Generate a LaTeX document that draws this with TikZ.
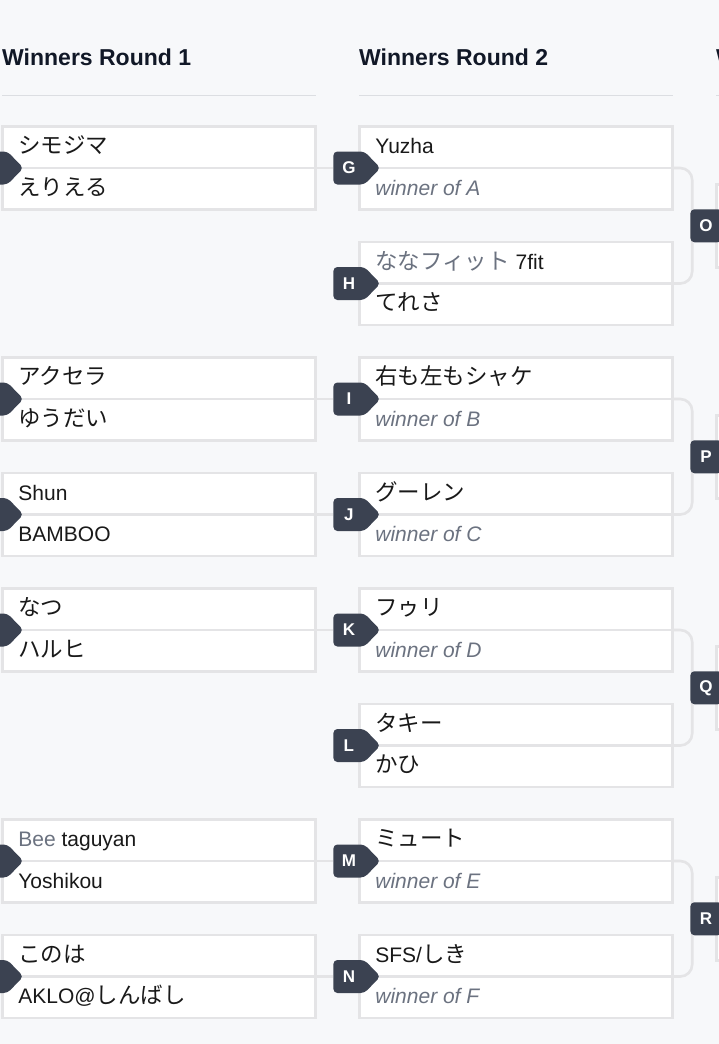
\documentclass[tikz,border=0pt]{standalone}
\usepackage{fontspec}
\setmainfont{Liberation Sans}
\newfontfamily\jp[Scale=1.07]{Noto Sans CJK JP}
\usetikzlibrary{shapes.symbols,backgrounds,positioning}
\definecolor{pagebg}{HTML}{F7F8FA}
\definecolor{boxline}{HTML}{E4E4E6}
\definecolor{badgebg}{HTML}{3B4251}
\definecolor{headtext}{HTML}{111827}
\definecolor{greytext}{HTML}{6B7280}
\definecolor{ruleline}{HTML}{DCDEE2}
\newcommand{\winnerof}[1]{{\color{greytext}\itshape winner of #1}}
\tikzstyle{head} = [anchor=west, inner sep=0pt, text=headtext, font=\bfseries\fontsize{23}{23}\selectfont]
\tikzstyle{rule} = [draw=ruleline, line width=1pt]
\tikzstyle{match} = [rectangle, draw=boxline, line width=2.6pt, fill=white, minimum width=313pt, minimum height=83pt, inner sep=0pt]
\tikzstyle{sep} = [draw=boxline, line width=2.6pt]
\tikzstyle{player} = [anchor=base west, inner sep=0pt, text=black!90, font=\fontsize{21}{21}\selectfont]
\tikzstyle{badge} = [signal, signal to=east, signal pointer angle=92, fill=badgebg, text=white, rounded corners=4pt, minimum width=47pt, minimum height=33pt, inner sep=0pt, anchor=west, font=\bfseries\fontsize{17}{17}\selectfont]
\tikzstyle{link} = [draw=boxline, line width=2.6pt]

\begin{document}
\begin{tikzpicture}[x=1pt,y=-1pt]

        \useasboundingbox (0,0) rectangle (719,1044);
        \clip (0,0) rectangle (719,1044);

        \node[head] (Head1) at (2,57) {Winners Round 1};
        \node[head] (Head2) at (359,57) {Winners Round 2};
        \node[head] (Head3) at (716,57) {Winners Round 3};
        \draw[rule] (2,95) -- (316,95);
        \draw[rule] (359,95) -- (673,95);
        \draw[rule] (716,95) -- (719,95);

        \foreach \m/\y/\pa/\pb in {A/168/{\jp シモジマ}/{\jp えりえる},
                B/399/{\jp アクセラ}/{\jp ゆうだい},
                C/514.5/{Shun}/{BAMBOO},
                D/630/{\jp なつ}/{\jp ハルヒ},
                E/861/{{\color{greytext}Bee} taguyan}/{Yoshikou},
                F/976.5/{\jp このは}/{AKLO@{\jp しんばし}}}
        {
            \node[match] (box\m) at (159,\y) {};
            \draw[sep] (box\m.west) -- (box\m.east);
            \node[player] (top\m) at ([shift={(17,-14.5)}]box\m.west) {\pa};
            \node[player] (bot\m) at ([shift={(17,27)}]box\m.west) {\pb};
            \node[badge] (tag\m) at ([xshift=-25pt]box\m.west) {\m};
        }

        \foreach \m/\y/\pa/\pb in {G/168/{Yuzha}/{\winnerof{A}},
                H/283.5/{{\color{greytext}\jp ななフィット} 7fit}/{\jp てれさ},
                I/399/{\jp 右も左もシャケ}/{\winnerof{B}},
                J/514.5/{\jp グーレン}/{\winnerof{C}},
                K/630/{\jp フゥリ}/{\winnerof{D}},
                L/745.5/{\jp タキー}/{\jp かひ},
                M/861/{\jp ミュート}/{\winnerof{E}},
                N/976.5/{SFS/{\jp しき}}/{\winnerof{F}}}
        {
            \node[match] (box\m) at (516,\y) {};
            \draw[sep] (box\m.west) -- (box\m.east);
            \node[player] (top\m) at ([shift={(17,-14.5)}]box\m.west) {\pa};
            \node[player] (bot\m) at ([shift={(17,27)}]box\m.west) {\pb};
            \node[badge] (tag\m) at ([xshift=-25pt]box\m.west) {\m};
        }

        \foreach \m/\y in {O/225.75,P/456.75,Q/687.75,R/918.75}
        {
            \node[match] (box\m) at (873,\y) {};
            \draw[sep] (box\m.west) -- (box\m.east);
            \node[badge] (tag\m) at ([xshift=-25pt]box\m.west) {\m};
        }

        \begin{scope}[on background layer]
            \fill[pagebg] (0,0) rectangle (719,1044);
            \foreach \a/\b in {A/G,B/I,C/J,D/K,E/M,F/N}
                \draw[link] (box\a.east) -- (tag\b.west);
            \foreach \a/\b/\c in {G/H/O,I/J/P,K/L/Q,M/N/R}
                \draw[link,rounded corners=12pt] (box\a.east) -| ([xshift=2pt]tag\c.west) |- (box\b.east);
        \end{scope}

\end{tikzpicture}
\end{document}
